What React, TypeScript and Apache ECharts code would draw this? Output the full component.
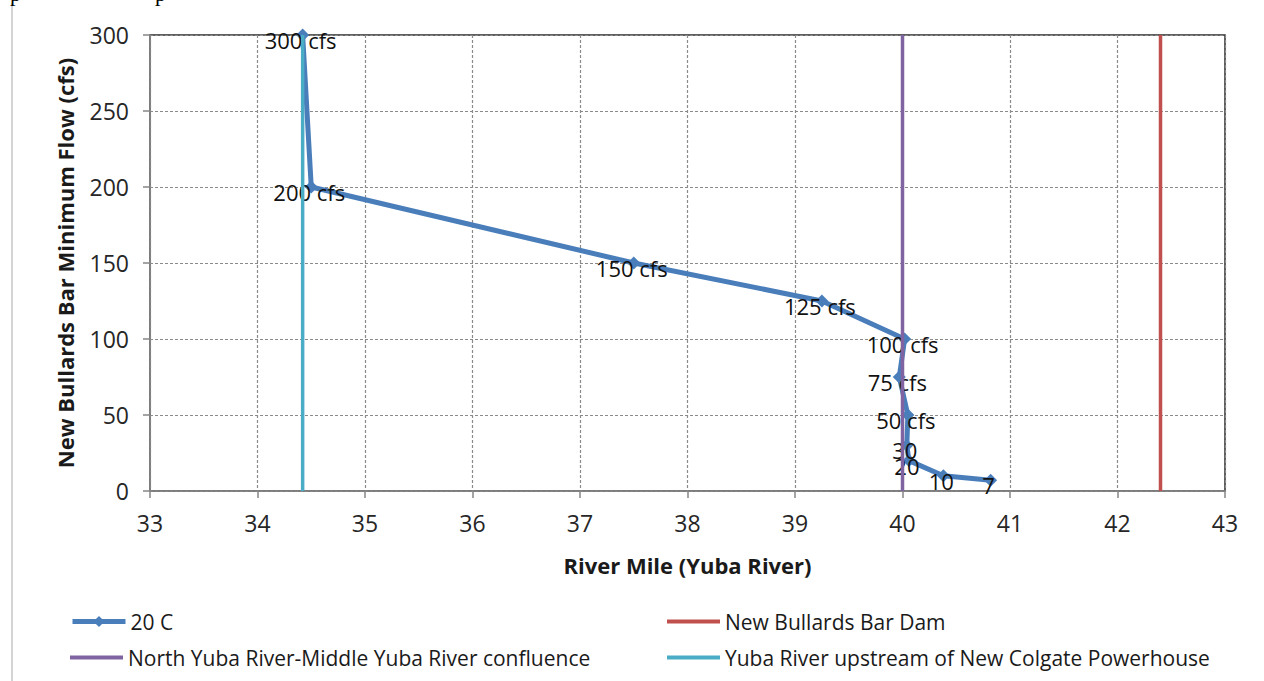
import React, { useEffect, useRef } from "react";
import * as echarts from "echarts";

// River mile of each point of the 20 C curve and its minimum flow (cfs)
const riverMiles = [34.42, 34.5, 37.5, 39.25, 40.02, 39.97, 40.05, 40.04, 40.06, 40.38, 40.82];
const minFlows = [300, 200, 150, 125, 100, 75, 50, 30, 20, 10, 7];
const pointLabels = ["300 cfs", "200 cfs", "150 cfs", "125 cfs", "100 cfs", "75 cfs", "50 cfs", "30", "20", "10", "7"];

// Reference locations (river mile)
const damMile = 42.4;
const confluenceMile = 40.0;
const colgateMile = 34.42;
const flowRange = [0, 300];

const xMin = 33;
const xMax = 43;
const xStep = 1;
const yMin = 0;
const yMax = 300;
const yStep = 50;

const seriesNames = [
  "20 C",
  "New Bullards Bar Dam",
  "North Yuba River-Middle Yuba River confluence",
  "Yuba River upstream of New Colgate Powerhouse",
];

const FONT = "'Open Sans', sans-serif";

export default function App() {
  const ref = useRef<HTMLDivElement>(null);

  useEffect(() => {
    if (!ref.current) return;
    const chart = echarts.init(ref.current, null, { renderer: "svg" });

    const curve = riverMiles.map((m, i) => [m, minFlows[i]]);
    const vline = (m: number) => flowRange.map((f) => [m, f]);

    const legendText = { fontFamily: FONT, fontSize: 21, color: "#1a1a1a" };
    const legendAt = (name: string, left: number, top: number, isLine: boolean) => ({
      left,
      top,
      itemWidth: 53,
      itemHeight: isLine ? 4 : 14,
      itemGap: 0,
      icon: isLine ? "rect" : undefined,
      lineStyle: isLine ? undefined : { width: 5 },
      textStyle: legendText,
      data: [name],
    });

    const option: any = {
      animation: false,
      backgroundColor: "#ffffff",
      grid: {
        left: 150,
        right: 39,
        top: 35,
        bottom: 190,
        show: true,
        borderColor: "#2b2b2b",
        borderWidth: 1.5,
        backgroundColor: "#ffffff",
      },
      xAxis: {
        type: "value",
        min: xMin,
        max: xMax,
        interval: xStep,
        name: "River Mile (Yuba River)",
        nameLocation: "middle",
        nameGap: 63,
        nameTextStyle: { fontFamily: FONT, fontWeight: "bold", fontSize: 22, color: "#1a1a1a" },
        axisLine: { show: true, lineStyle: { color: "#868686", width: 1.5 } },
        axisTick: { show: true, inside: false, length: 7, lineStyle: { color: "#868686", width: 1.5 } },
        axisLabel: { fontFamily: FONT, fontSize: 23, color: "#262626", margin: 20 },
        splitLine: { show: true, lineStyle: { color: "#8a8a8a", type: [3, 2], width: 1.2 } },
      },
      yAxis: {
        type: "value",
        min: yMin,
        max: yMax,
        interval: yStep,
        name: "New Bullards Bar Minimum Flow (cfs)",
        nameLocation: "middle",
        nameGap: 74,
        nameTextStyle: { fontFamily: FONT, fontWeight: "bold", fontSize: 22, color: "#1a1a1a" },
        axisLine: { show: true, lineStyle: { color: "#868686", width: 1.5 } },
        axisTick: { show: true, inside: false, length: 7, lineStyle: { color: "#868686", width: 1.5 } },
        axisLabel: { fontFamily: FONT, fontSize: 23, color: "#262626", margin: 21 },
        splitLine: { show: true, lineStyle: { color: "#8a8a8a", type: [3, 2], width: 1.2 } },
      },
      legend: [
        legendAt(seriesNames[0], 65, 606, false),
        legendAt(seriesNames[2], 65, 642, true),
        legendAt(seriesNames[1], 662, 606, true),
        legendAt(seriesNames[3], 662, 642, true),
      ],
      series: [
        {
          name: seriesNames[0],
          type: "line",
          data: curve,
          symbol: "diamond",
          symbolSize: 13,
          itemStyle: { color: "#4A7EBB" },
          lineStyle: { color: "#4A7EBB", width: 5 },
          label: {
            show: true,
            position: "inside",
            offset: [-2, 5],
            fontFamily: FONT,
            fontSize: 22,
            color: "#111111",
            formatter: (p: any) => pointLabels[p.dataIndex],
          },
          z: 3,
        },
        {
          name: seriesNames[1],
          type: "line",
          data: vline(damMile),
          symbol: "none",
          lineStyle: { color: "#C0504D", width: 3.5 },
          itemStyle: { color: "#C0504D" },
          z: 4,
        },
        {
          name: seriesNames[2],
          type: "line",
          data: vline(confluenceMile),
          symbol: "none",
          lineStyle: { color: "#8064A2", width: 3.5 },
          itemStyle: { color: "#8064A2" },
          z: 4,
        },
        {
          name: seriesNames[3],
          type: "line",
          data: vline(colgateMile),
          symbol: "none",
          lineStyle: { color: "#4BACC6", width: 3.5 },
          itemStyle: { color: "#4BACC6" },
          z: 4,
        },
      ],
      graphic: [
        {
          type: "line",
          shape: { x1: 12, y1: 3, x2: 12, y2: 681 },
          style: { stroke: "#d4d4d4", lineWidth: 2 },
          silent: true,
        },
        {
          type: "text",
          x: 10,
          y: 4,
          silent: true,
          style: { text: "p", font: "22px 'Liberation Serif', serif", fill: "#000", verticalAlign: "bottom" },
        },
        {
          type: "text",
          x: 155,
          y: 4,
          silent: true,
          style: { text: "p", font: "22px 'Liberation Serif', serif", fill: "#000", verticalAlign: "bottom" },
        },
      ],
    };

    chart.setOption(option);
    return () => chart.dispose();
  }, []);

  return (
    <div
      ref={ref}
      style={{ position: "fixed", left: 0, top: 0, width: 1264, height: 681, background: "#fff" }}
    />
  );
}
